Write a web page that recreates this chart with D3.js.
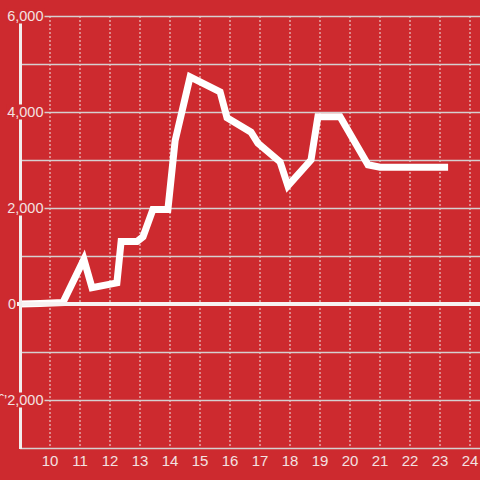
<!DOCTYPE html>
<html>
<head>
    <style>
        body { margin: 0; background: #cd2a2f; }
        svg { display: block; }
        text { font-family: "Liberation Sans", Arial, sans-serif; font-size: 15px; fill: #f3e1e1; }
        .ylab text { font-size: 14.5px; }
    </style>
</head>
<body>
    <div id="chart"></div>
    <script src="https://d3js.org/d3.v7.min.js"></script>
    <script>
        // values
        const xValues = [9.0, 9.67, 10.43, 11.13, 11.4, 12.23, 12.37, 12.9, 13.1, 13.43, 13.93, 14.17, 14.67,
            15.67, 15.9, 16.7, 16.93, 17.67, 17.93, 18.7, 18.93, 19.67, 20.6, 21.0, 23.27];
        const yValues = [0, 10, 30, 930, 340, 440, 1300, 1300, 1400, 1970, 1970, 3400, 4730,
            4420, 3880, 3580, 3350, 2960, 2460, 3000, 3900, 3900, 2900, 2850, 2850];
        const xTicks = [10, 11, 12, 13, 14, 15, 16, 17, 18, 19, 20, 21, 22, 23, 24];
        const yGrid = [-3000, -2000, -1000, 0, 1000, 2000, 3000, 4000, 5000, 6000];
        const yLabels = [-2000, 0, 2000, 4000, 6000];

        const width = 480, height = 480;
        const bg = "#cd2a2f";

        const svg = d3.select("#chart").append("svg")
            .attr("width", width)
            .attr("height", height);

        svg.append("rect").attr("width", width).attr("height", height).attr("fill", bg);

        const x = d3.scaleLinear().domain([9, 25]).range([20, 500]);
        const y = d3.scaleLinear().domain([-3000, 6000]).range([448, 16]);

        // vertical dotted lines
        svg.selectAll(".vgrid")
            .data(xTicks)
            .join("line")
            .attr("x1", d => x(d)).attr("x2", d => x(d))
            .attr("y1", y(6000)).attr("y2", 446)
            .attr("stroke", "#f0e6e6")
            .attr("stroke-width", 1)
            .attr("stroke-dasharray", "2,2");

        // horizontal grid
        svg.selectAll(".hgrid")
            .data(yGrid.filter(d => d !== 0))
            .join("line")
            .attr("x1", 20).attr("x2", width)
            .attr("y1", d => y(d) + 0.5).attr("y2", d => y(d) + 0.5)
            .attr("stroke", "#d6d0d0")
            .attr("stroke-width", 1.5);

        // data line
        const line = d3.line()
            .x((d, i) => x(xValues[i]))
            .y(d => y(d));

        svg.append("path")
            .datum(yValues)
            .attr("d", line)
            .attr("fill", "none")
            .attr("stroke", "#ffffff")
            .attr("stroke-width", 7)
            .attr("stroke-linejoin", "miter");

        // zero line
        svg.append("line")
            .attr("x1", 17).attr("x2", width)
            .attr("y1", y(0)).attr("y2", y(0))
            .attr("stroke", "#f7f2f2")
            .attr("stroke-width", 4);

        // y axis line
        svg.append("line")
            .attr("x1", 20.5).attr("x2", 20.5)
            .attr("y1", y(6000)).attr("y2", 449)
            .attr("stroke", "#f2eded")
            .attr("stroke-width", 3);

        // y labels with background (zero sits left of the axis)
        const fmt = d => d3.format(",")(d).replace("\u2212", "-");
        const yl = svg.selectAll(".ylab")
            .data(yLabels)
            .join("g")
            .attr("class", "ylab")
            .attr("transform", d => `translate(${d === 0 ? 16 : 43.5},${y(d)})`);

        yl.append("text")
            .attr("text-anchor", "end")
            .attr("dy", "0.35em")
            .text(d => fmt(d))
            .each(function (d) {
                if (d === 0) return;
                const b = this.getBBox();
                d3.select(this.parentNode).insert("rect", "text")
                    .attr("x", b.x - 1).attr("y", -7.5)
                    .attr("width", b.width + 2).attr("height", 15)
                    .attr("fill", bg);
            });

        // x labels
        svg.selectAll(".xlab")
            .data(xTicks)
            .join("text")
            .attr("x", d => x(d))
            .attr("y", 461)
            .attr("dy", "0.35em")
            .attr("text-anchor", "middle")
            .text(d => d);
    </script>
</body>
</html>
